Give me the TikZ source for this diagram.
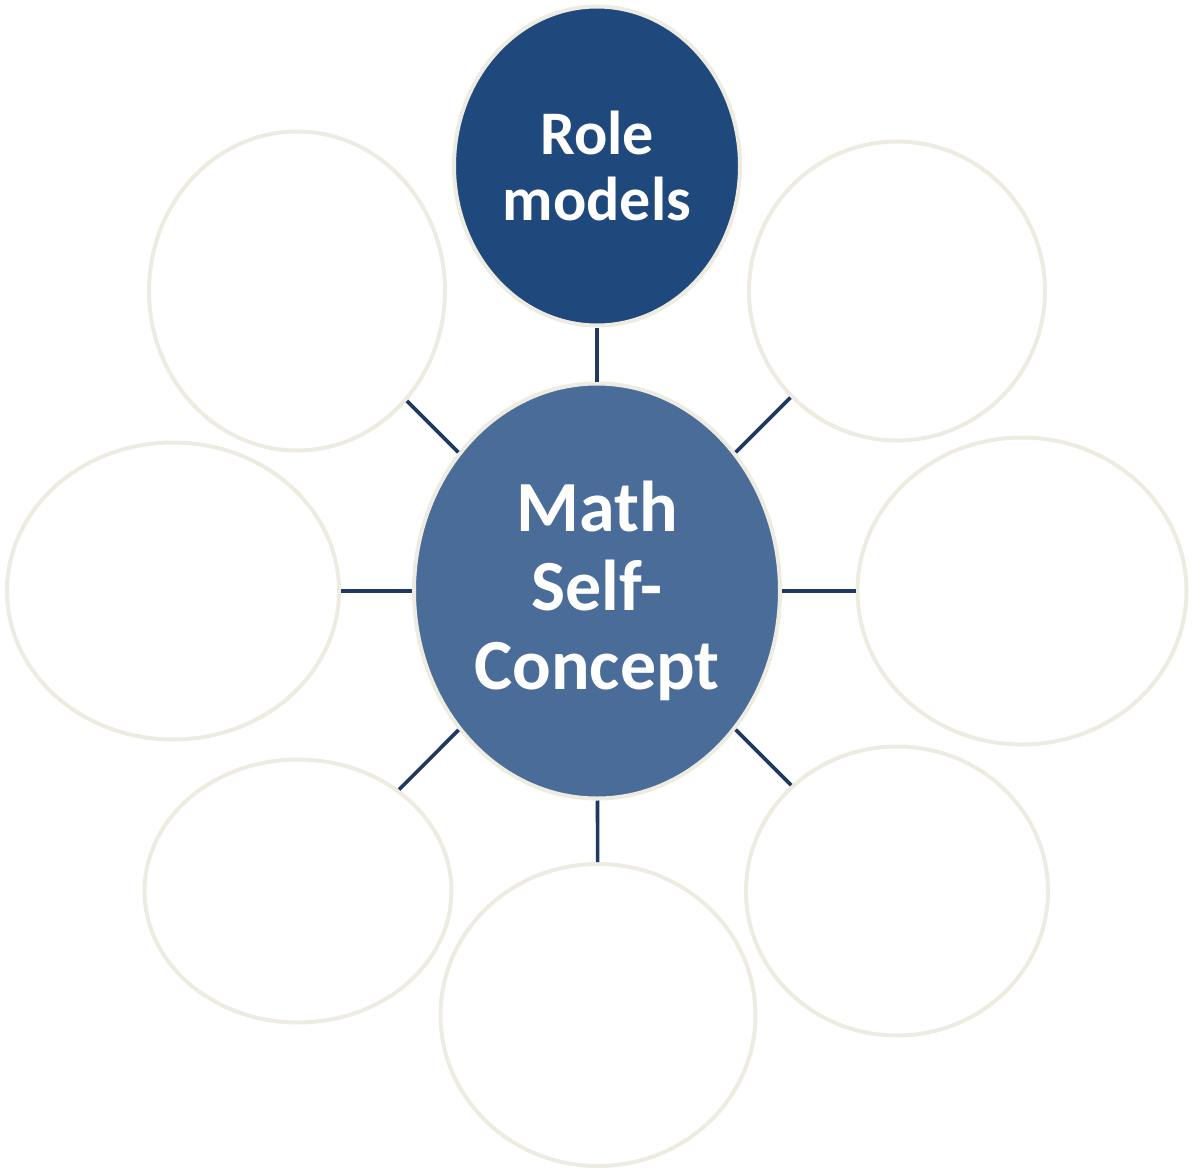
\documentclass[tikz,border=0pt]{standalone}
\usepackage{fontspec}
\setmainfont{Carlito}
\usetikzlibrary{shapes.geometric}
\definecolor{rim}{HTML}{EEECE1}
\definecolor{navy}{HTML}{1F3864}
\definecolor{topfill}{HTML}{1F497D}
\definecolor{midfill}{HTML}{4A6C98}
\tikzset{
  bubble/.style={ellipse, draw=rim, line width=4pt, inner sep=0pt, fill=white},
  link/.style={draw=navy, line width=3.6pt},
}
\begin{document}
\begin{tikzpicture}[x=1pt,y=-1pt]
\useasboundingbox (0,0) rectangle (1192,1170);
\node[bubble, fill=midfill, minimum width=366pt, minimum height=415pt, text=white, align=center,
  font=\fontsize{72}{79}\selectfont\bfseries] (c) at (597,591) {Math\\Self-\\Concept};
\node[bubble, fill=topfill, minimum width=286pt, minimum height=319pt, text=white, align=center,
  font=\fontsize{62}{66}\selectfont\bfseries] (t) at (597,166) {Role\\models};
\node[bubble, minimum width=296pt, minimum height=319pt] (tl) at (297,291) {};
\node[bubble, minimum width=296pt, minimum height=299pt] (tr) at (897,291) {};
\node[bubble, minimum width=332pt, minimum height=297pt] (l) at (173,591) {};
\node[bubble, minimum width=329pt, minimum height=307pt] (r) at (1022,591) {};
\node[bubble, minimum width=307pt, minimum height=263pt] (bl) at (298,891) {};
\node[bubble, minimum width=315pt, minimum height=302pt] (b) at (598,1015) {};
\node[bubble, minimum width=302pt, minimum height=289pt] (br) at (897,891) {};
\foreach \n in {t,tl,tr,l,r,bl,b,br} \draw[link] (c) -- (\n);
\end{tikzpicture}
\end{document}
